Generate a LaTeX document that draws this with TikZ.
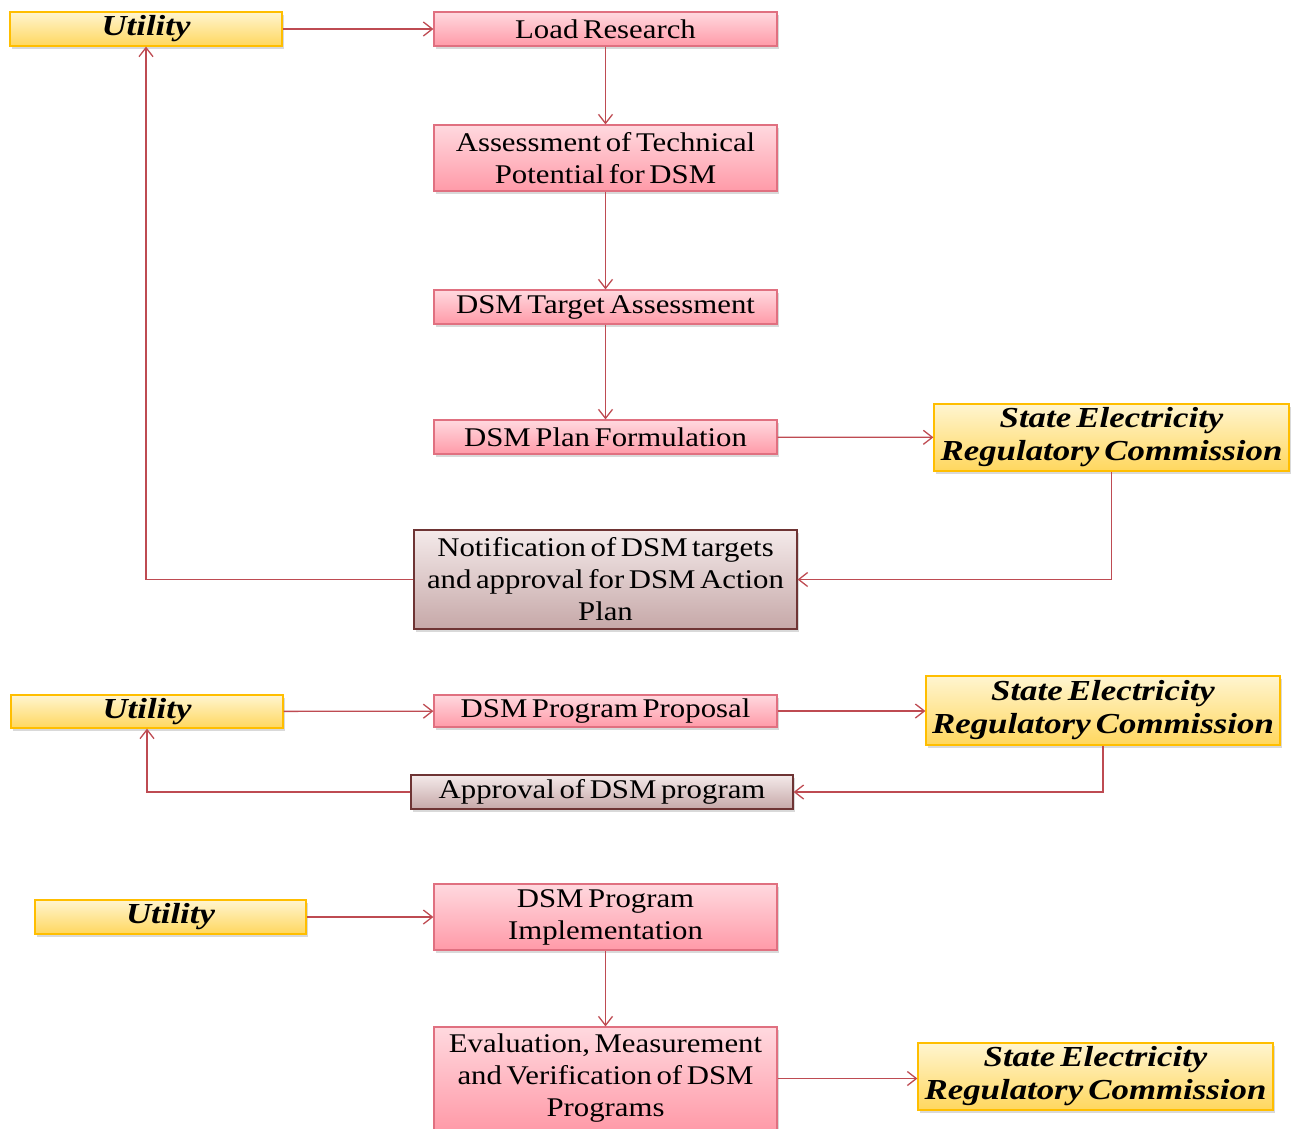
\documentclass[tikz,border=0pt]{standalone}
\usepackage{fontspec}
\usetikzlibrary{arrows.meta,shadows}
\newfontfamily\boxfont[FakeStretch=1.14,WordSpace=0.6]{Liberation Serif}
\newfontfamily\actorfont[FakeStretch=1.2,WordSpace=0.6]{Liberation Serif}
\definecolor{linkred}{HTML}{BE4B52}
\definecolor{pinkedge}{HTML}{E07080}
\definecolor{pinktop}{HTML}{FFD9DF}
\definecolor{pinkbot}{HTML}{FF9AA8}
\definecolor{goldedge}{HTML}{FFBE00}
\definecolor{goldtop}{HTML}{FFF5D0}
\definecolor{goldbot}{HTML}{FFD75E}
\definecolor{brownedge}{HTML}{6E3434}
\definecolor{browntop}{HTML}{F4EAEA}
\definecolor{brownbot}{HTML}{C6A8A8}
\tikzset{
  shade box/.style={draw, line width=1.2pt, inner sep=0pt, align=center,
    drop shadow={shadow xshift=2pt, shadow yshift=-3pt, opacity=0.3}},
  procbox/.style={shade box, draw=pinkedge, top color=pinktop, bottom color=pinkbot,
    font=\boxfont\fontsize{27}{32}\selectfont, minimum width=343pt},
  actorbox/.style={shade box, draw=goldedge, top color=goldtop, bottom color=goldbot,
    font=\actorfont\bfseries\itshape\fontsize{29}{33}\selectfont},
  notebox/.style={shade box, draw=brownedge, top color=browntop, bottom color=brownbot,
    font=\boxfont\fontsize{27}{32}\selectfont},
  link/.style={draw=linkred, line width=1.3pt, -{Straight Barb[length=9pt,width=14pt]}}
}
\begin{document}
\begin{tikzpicture}[x=1pt,y=-1pt]
    \path[use as bounding box] (0,0) rectangle (1295,1128);
    \clip (0,0) rectangle (1295,1128);

    % First stage: planning
    \node[actorbox, minimum width=272pt, minimum height=34pt] (util1) at (146,29) {Utility};
    \node[procbox, minimum height=34pt] (load) at (605.5,29) {Load Research};
    \node[procbox, minimum height=66pt] (assess) at (605.5,158) {Assessment of Technical\\Potential for DSM};
    \node[procbox, minimum height=34pt] (target) at (605.5,307) {DSM Target Assessment};
    \node[procbox, minimum height=34pt] (plan) at (605.5,437) {DSM Plan Formulation};
    \node[actorbox, minimum width=355pt, minimum height=67pt] (serc1) at (1111.5,437.5) {State Electricity\\Regulatory Commission};
    \node[notebox, minimum width=383pt, minimum height=99pt] (notif) at (605.5,579.5) {Notification of DSM targets\\and approval for DSM Action\\Plan};

    % Second stage: proposal
    \node[actorbox, minimum width=272pt, minimum height=33pt] (util2) at (147,711.5) {Utility};
    \node[procbox, minimum height=32pt] (propose) at (605.5,711) {DSM Program Proposal};
    \node[actorbox, minimum width=354pt, minimum height=69pt] (serc2) at (1103,710.5) {State Electricity\\Regulatory Commission};
    \node[notebox, minimum width=382pt, minimum height=34pt] (approve) at (602,792) {Approval of DSM program};

    % Third stage: implementation
    \node[actorbox, minimum width=271pt, minimum height=34pt] (util3) at (170.5,917) {Utility};
    \node[procbox, minimum height=66pt] (implement) at (605.5,917) {DSM Program\\Implementation};
    \node[procbox, minimum height=103pt] (evaluate) at (605.5,1078.5) {Evaluation, Measurement\\and Verification of DSM\\Programs};
    \node[actorbox, minimum width=355pt, minimum height=67pt] (serc3) at (1095.5,1076.5) {State Electricity\\Regulatory Commission};

    % Connectors
    \draw[link] (util1) -- (load);
    \draw[link] (load) -- (assess);
    \draw[link] (assess) -- (target);
    \draw[link] (target) -- (plan);
    \draw[link] (plan) -- (serc1);
    \draw[link] (serc1.south) |- (notif.east);
    \draw[link] (notif.west) -| (util1.south);

    \draw[link] (util2) -- (propose);
    \draw[link] (propose.east) -- (serc2.west |- propose.east);
    \draw[link] (serc2.south) |- (approve.east);
    \draw[link] (approve.west) -| (util2.south);

    \draw[link] (util3) -- (implement);
    \draw[link] (implement) -- (evaluate);
    \draw[link] (evaluate.east) -- (serc3.west |- evaluate.east);
\end{tikzpicture}
\end{document}
